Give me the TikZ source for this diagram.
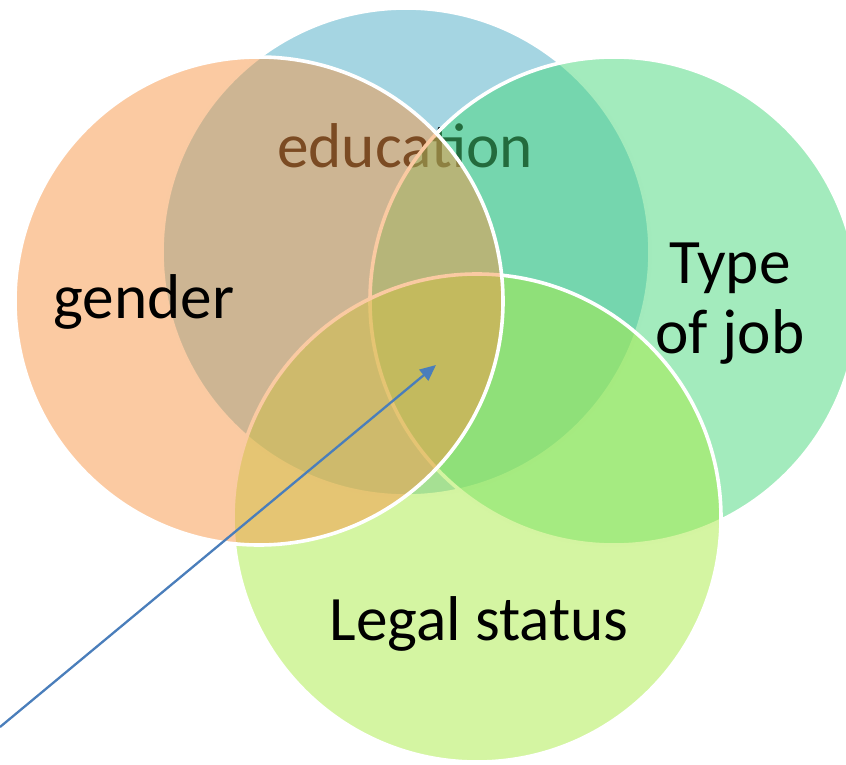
\documentclass[tikz,border=0pt]{standalone}
\usepackage{fontspec}
\setmainfont{Carlito}
\usetikzlibrary{arrows.meta}
\definecolor{eduC}{RGB}{75,172,198}
\definecolor{genC}{RGB}{247,150,70}
\definecolor{jobC}{RGB}{71,215,123}
\definecolor{legC}{RGB}{169,235,69}
\definecolor{arrC}{RGB}{74,126,187}
\begin{document}
\begin{tikzpicture}[x=1bp,y=-1bp,
  venn/.style={circle, minimum size=488bp, inner sep=0pt, draw=white, line width=3.6bp, fill opacity=0.5, draw opacity=1},
  lbl/.style={font=\fontsize{63.5}{70}\selectfont, text=black, inner sep=0pt, anchor=base},
  ptr/.style={draw=arrC, line width=2.3bp, -{Triangle[length=16bp,width=14bp]}}]
\useasboundingbox (0,0) rectangle (846,765);
\clip (0,0) rectangle (846,765);
\node[venn, fill=eduC] (edu) at (406,252) {};
\node[lbl] (edut) at (405,167) {education};
\node[venn, fill=jobC] (job) at (614,301) {};
\node[venn, fill=legC] (leg) at (477,518) {};
\node[venn, fill=genC] (gen) at (259,301) {};
\node[lbl] (gent) at (144,318) {gender};
\node[lbl, align=center] (jobt) at (730,353) {Type\\of job};
\node[lbl] (legt) at (479,640) {Legal status};
\coordinate (src) at (0,727);
\coordinate (tip) at (436,365);
\draw[ptr] (src) -- (tip);
\end{tikzpicture}
\end{document}
